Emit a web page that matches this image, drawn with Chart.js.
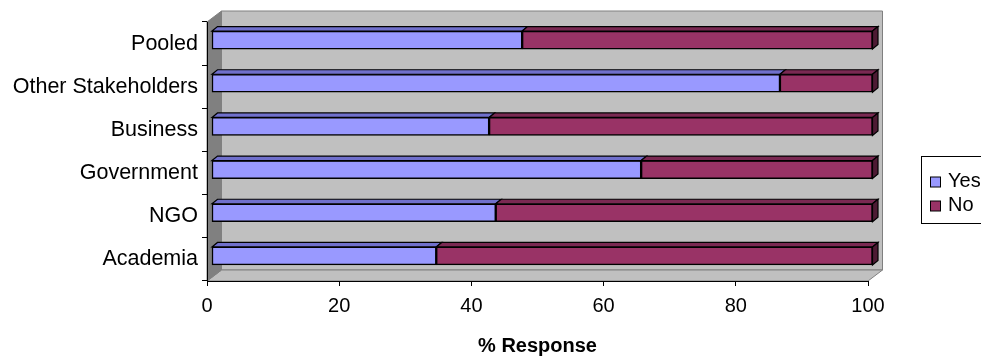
<!DOCTYPE html>
<html>
<head>
<meta charset="utf-8">
<script src="https://cdn.jsdelivr.net/npm/chart.js@4.4.1/dist/chart.umd.min.js"></script>
<style>
  html, body { margin: 0; padding: 0; background: #ffffff; }
  #wrap { width: 981px; height: 358px; position: relative; }
</style>
</head>
<body>
<div id="wrap"><canvas id="chart" width="981" height="358"></canvas></div>
<script>
// Survey answers by stakeholder group (percent of responses)
const categories = ['Pooled', 'Other Stakeholders', 'Business', 'Government', 'NGO', 'Academia'];
const yesValues = [47, 86, 42, 65, 43, 34];
const noValues = [53, 14, 58, 35, 57, 66];
const xTicks = [0, 20, 40, 60, 80, 100];
const seriesNames = ['Yes', 'No'];
const axisTitle = '% Response';

const FONT = "'Liberation Sans', Arial, sans-serif";

// 3D look: wall depth and bar depth offsets (pixels)
const WALL = { dx: 14.5, dy: 11 };
const BAR_POS = { dx: 4.5, dy: 3.5 };
const BAR_DEPTH = { dx: 5.5, dy: 4.5 };

const faceColors = [
  { front: '#9999FF', top: '#7070CC', side: '#4D4D80' },
  { front: '#993366', top: '#7A2952', side: '#4D1A33' }
];

function shade(ctx, pts, fill, stroke, lw) {
  ctx.beginPath();
  ctx.moveTo(pts[0][0], pts[0][1]);
  for (let i = 1; i < pts.length; i++) ctx.lineTo(pts[i][0], pts[i][1]);
  ctx.closePath();
  if (fill) { ctx.fillStyle = fill; ctx.fill(); }
  if (stroke) { ctx.strokeStyle = stroke; ctx.lineWidth = lw || 1; ctx.stroke(); }
}

// Back wall, side wall and floor behind the bars
const wallsPlugin = {
  id: 'walls',
  beforeDraw(chart) {
    const { ctx, chartArea: a } = chart;
    const L = a.left, R = a.right, T = a.top, B = a.bottom;
    ctx.save();
    // back wall
    shade(ctx, [[L + WALL.dx, T - WALL.dy], [R + WALL.dx, T - WALL.dy], [R + WALL.dx, B - WALL.dy], [L + WALL.dx, B - WALL.dy]], '#C0C0C0', '#808080', 1);
    // floor
    shade(ctx, [[L, B], [R, B], [R + WALL.dx, B - WALL.dy], [L + WALL.dx, B - WALL.dy]], '#C0C0C0', '#808080', 1);
    // side wall
    shade(ctx, [[L, T], [L + WALL.dx, T - WALL.dy], [L + WALL.dx, B - WALL.dy], [L, B]], '#808080', '#808080', 1);
    ctx.restore();
  }
};

// Pushes the bars back into the scene and adds their top and side faces
const barDepthPlugin = {
  id: 'barDepth',
  beforeDatasetsDraw(chart) {
    chart.ctx.save();
    chart.ctx.translate(BAR_POS.dx, -BAR_POS.dy);
  },
  afterDatasetsDraw(chart) {
    const ctx = chart.ctx;
    const n = chart.data.datasets.length;
    for (let d = 0; d < n; d++) {
      const meta = chart.getDatasetMeta(d);
      const cols = faceColors[d];
      meta.data.forEach((bar) => {
        const { x, y, base, height } = bar.getProps(['x', 'y', 'base', 'height'], true);
        const yT = y - height / 2, yB = y + height / 2;
        const x0 = Math.min(base, x), x1 = Math.max(base, x);
        shade(ctx, [[x0, yT], [x0 + BAR_DEPTH.dx, yT - BAR_DEPTH.dy], [x1 + BAR_DEPTH.dx, yT - BAR_DEPTH.dy], [x1, yT]], cols.top, '#000000', 1.2);
        if (d === n - 1) {
          shade(ctx, [[x1, yT], [x1 + BAR_DEPTH.dx, yT - BAR_DEPTH.dy], [x1 + BAR_DEPTH.dx, yB - BAR_DEPTH.dy], [x1, yB]], cols.side, '#000000', 1.2);
        }
      });
    }
    ctx.restore();
  }
};

// Boxed legend at the right edge
const boxLegendPlugin = {
  id: 'boxLegend',
  afterDraw(chart) {
    const ctx = chart.ctx;
    const boxX = 921.5, boxY = 156.5, boxW = 80, boxH = 67;
    ctx.save();
    ctx.fillStyle = '#ffffff';
    ctx.fillRect(boxX, boxY, boxW, boxH);
    ctx.strokeStyle = '#000000';
    ctx.lineWidth = 1;
    ctx.strokeRect(boxX, boxY, boxW, boxH);
    const rows = [181, 205];
    chart.data.datasets.forEach((ds, i) => {
      const cy = rows[i];
      ctx.fillStyle = ds.backgroundColor;
      ctx.fillRect(930.5, cy - 4, 10, 10);
      ctx.strokeStyle = '#000000';
      ctx.strokeRect(930.5, cy - 4, 10, 10);
      ctx.fillStyle = '#000000';
      ctx.font = '20px ' + FONT;
      ctx.textBaseline = 'middle';
      ctx.textAlign = 'left';
      ctx.fillText(ds.label, 948, cy);
    });
    ctx.restore();
  }
};

const datasets = [yesValues, noValues].map((vals, i) => ({
  label: seriesNames[i],
  data: vals,
  backgroundColor: faceColors[i].front,
  borderColor: '#000000',
  borderWidth: 1.5,
  borderSkipped: false,
  barThickness: 18,
  clip: false
}));

new Chart(document.getElementById('chart'), {
  type: 'bar',
  data: { labels: categories, datasets },
  options: {
    indexAxis: 'y',
    responsive: false,
    animation: false,
    events: [],
    layout: { padding: { top: 22, right: 113, bottom: 0, left: 0 } },
    plugins: { legend: { display: false }, tooltip: { enabled: false } },
    scales: {
      x: {
        stacked: true,
        min: 0,
        max: 100,
        afterBuildTicks(scale) { scale.ticks = xTicks.map(v => ({ value: v })); },
        afterFit(scale) { scale.height = 77; },
        grid: { drawOnChartArea: false, drawTicks: true, tickLength: 5, color: '#000000' },
        border: { display: true, color: '#000000', width: 1 },
        ticks: { color: '#000000', padding: 8, font: { family: FONT, size: 20 } },
        title: {
          display: true,
          text: axisTitle,
          color: '#000000',
          padding: { top: 0, bottom: 0 },
          font: { family: FONT, size: 20, weight: 'bold' }
        }
      },
      y: {
        stacked: true,
        afterFit(scale) { scale.width = 207; },
        grid: { drawOnChartArea: false, drawTicks: true, tickLength: 5, color: '#000000', offset: true },
        border: { display: true, color: '#000000', width: 1 },
        ticks: { color: '#000000', padding: 4, font: { family: FONT, size: 21.5 } }
      }
    }
  },
  plugins: [wallsPlugin, barDepthPlugin, boxLegendPlugin]
});
</script>
</body>
</html>
